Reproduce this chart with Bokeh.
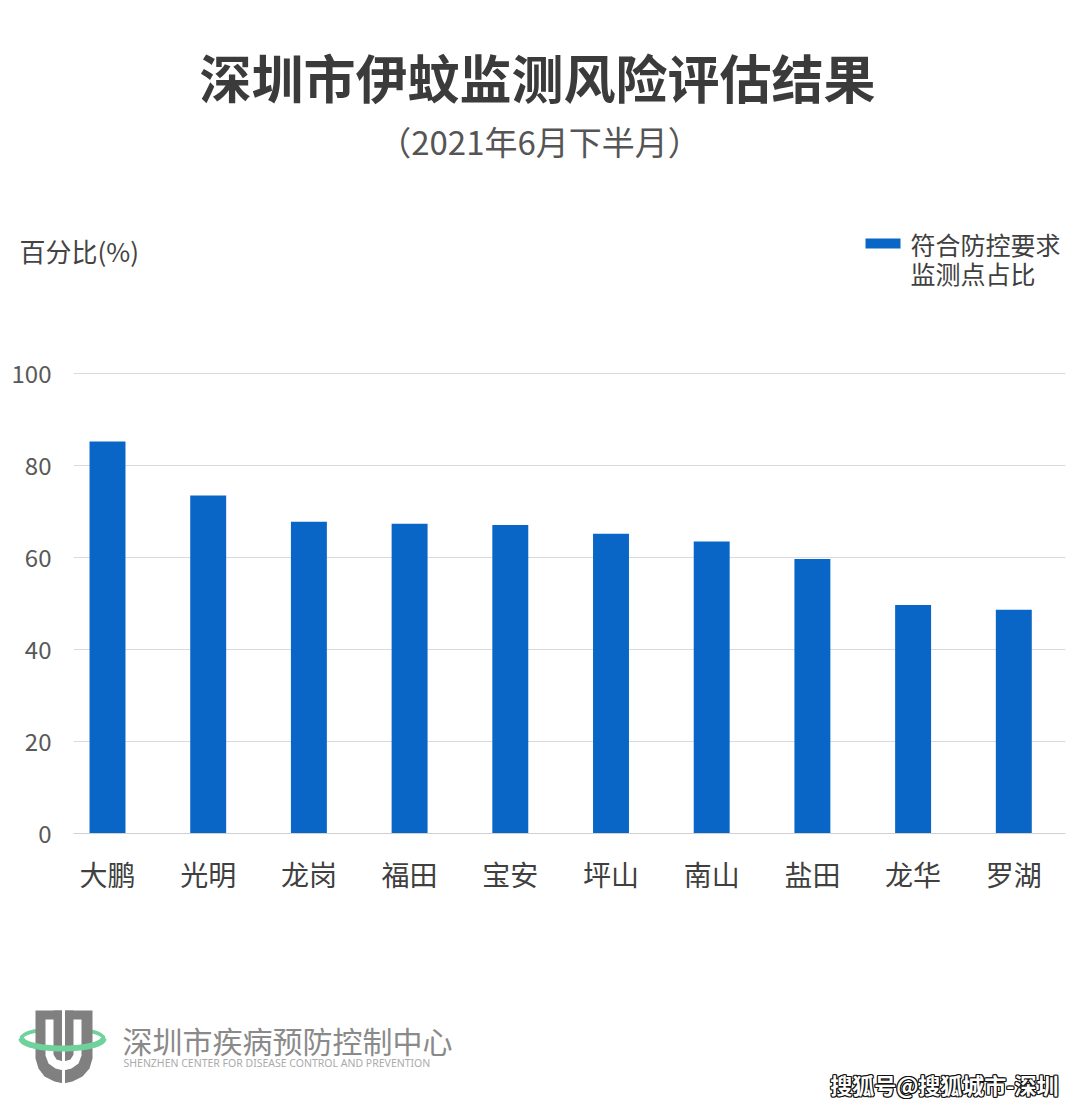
import numpy as np
from bokeh.plotting import figure
from bokeh.layouts import column
from bokeh.models import Range1d, FixedTicker
from bokeh.core.properties import value
from bokeh.embed import file_html
from bokeh.resources import INLINE

# ---------------- data ----------------
districts = ["大鹏", "光明", "龙岗", "福田", "宝安", "坪山", "南山", "盐田", "龙华", "罗湖"]
pct_ok = [85.3, 73.5, 67.8, 67.4, 67.1, 65.2, 63.5, 59.7, 49.7, 48.7]
y_ticks = [0, 20, 40, 60, 80, 100]
title_text = "深圳市伊蚊监测风险评估结果"
subtitle_text = "（2021年6月下半月）"
y_title = "百分比(%)"
legend_lines = ["符合防控要求", "监测点占比"]
org_cn = "深圳市疾病预防控制中心"
org_en = "SHENZHEN CENTER FOR DISEASE CONTROL AND PREVENTION"
watermark = "搜狐号@搜狐城市-深圳"

FONT = "Noto Sans CJK SC"
BLUE = "#0a66c6"
W = 1080


def blank_fig(h, y_top, y_bot):
    f = figure(width=W, height=h, x_range=Range1d(0, W), y_range=Range1d(y_bot, y_top),
               output_backend="svg", toolbar_location=None, min_border=0,
               frame_align=False,
               background_fill_color="white", border_fill_color="white")
    f.axis.visible = False
    f.grid.visible = False
    f.outline_line_color = None
    return f


# ---------------- header ----------------
hdr = blank_fig(340, 0, 340)
hdr.text(x=[537], y=[76], text=[title_text], text_font=value(FONT), text_font_size="52px",
         text_font_style="bold", text_color="#3b3b3b", text_align="center", text_baseline="middle")
hdr.text(x=[539], y=[140], text=[subtitle_text], text_font=value(FONT), text_font_size="33px",
         text_color="#555555", text_align="center", text_baseline="middle")
hdr.text(x=[19], y=[250], text=[y_title], text_font=value(FONT), text_font_size="26px",
         text_color="#444444", text_align="left", text_baseline="middle")
hdr.quad(left=[865], right=[900], top=[238], bottom=[248], fill_color=BLUE, line_color=None)
hdr.text(x=[910, 910], y=[243, 272], text=legend_lines, text_font=value(FONT),
         text_font_size="25px", text_color="#404040", text_align="left", text_baseline="middle")

# ---------------- main chart ----------------
px_top, px_100, px_0 = 360.0, 373.3, 833.0
y_end = (px_0 - px_top) / (px_0 - px_100) * 100
left_px, right_px, c0, step = 73.0, 1065.0, 107.0, 100.7
x_start = (left_px - c0) / step
x_end = (right_px - c0) / step

p = figure(width=W, height=560, x_range=Range1d(x_start, x_end), y_range=Range1d(0, y_end),
           output_backend="svg", toolbar_location=None, frame_align=False,
           min_border_left=int(left_px), min_border_right=int(W - right_px),
           min_border_top=int(px_top - 340), min_border_bottom=int(900 - px_0),
           background_fill_color="white", border_fill_color="white")
p.outline_line_color = None
xs = list(range(len(districts)))
p.vbar(x=xs, top=pct_ok, width=0.357, fill_color=BLUE, line_color=None)

p.xgrid.visible = False
p.ygrid.ticker = FixedTicker(ticks=y_ticks)
p.ygrid.grid_line_color = "#dadada"
p.ygrid.grid_line_width = 1

p.yaxis.ticker = FixedTicker(ticks=y_ticks)
p.yaxis.axis_line_color = None
p.yaxis.major_tick_line_color = None
p.yaxis.minor_tick_line_color = None
p.yaxis.major_label_text_font = FONT
p.yaxis.major_label_text_font_size = "24px"
p.yaxis.major_label_text_color = "#595959"
p.yaxis.major_label_standoff = 16

p.xaxis.ticker = FixedTicker(ticks=xs)
p.xaxis.major_label_overrides = {i: d for i, d in enumerate(districts)}
p.xaxis.axis_line_color = "#d0d0d0"
p.xaxis.axis_line_width = 1
p.xaxis.major_tick_line_color = None
p.xaxis.minor_tick_line_color = None
p.xaxis.major_label_text_font = FONT
p.xaxis.major_label_text_font_size = "28px"
p.xaxis.major_label_text_color = "#404040"
p.xaxis.major_label_standoff = 14

# ---------------- footer ----------------
ftr = blank_fig(208, 900, 1108)
GREEN = "#6fd29c"
GRAY = "#808080"
# green ring, back part
ftr.ellipse(x=[62], y=[1038], width=[82], height=[20], fill_color=None,
            line_color=GREEN, line_width=4)
# shield
shield_x = [35, 92, 92, 89, 82, 72, 63, 54, 44, 38, 35]
shield_y = [1010, 1010, 1058, 1068, 1076, 1081, 1083, 1081, 1076, 1068, 1058]
ftr.patch(shield_x, shield_y, fill_color=GRAY, line_color=None)
inner_x = [45, 81, 81, 78, 71, 63, 55, 48, 45]
inner_y = [1019, 1019, 1055, 1063, 1068, 1070, 1068, 1063, 1055]
ftr.patch(inner_x, inner_y, fill_color="white", line_color=None)
tongue_x = [53, 73, 73, 70, 63, 56, 53]
tongue_y = [1010, 1010, 1054, 1059, 1061, 1059, 1054]
ftr.patch(tongue_x, tongue_y, fill_color=GRAY, line_color=None)
ftr.segment(x0=[63], y0=[1006], x1=[63], y1=[1086], line_color="white", line_width=3)
# green ring, front (lower) part
t = np.linspace(0, np.pi, 40)
ftr.line(62 + 41 * np.cos(t), 1038 + 10 * np.sin(t), line_color=GREEN, line_width=6)

ftr.text(x=[122], y=[1039], text=[org_cn], text_font=value(FONT), text_font_size="30px",
         text_color="#8a8a8a", text_align="left", text_baseline="middle")
ftr.text(x=[123], y=[1062], text=[org_en], text_font=value("Noto Sans"), text_font_size="10.5px",
         text_color="#ababab", text_align="left", text_baseline="middle")
for dx, dy in [(-1, 0), (1, 0), (0, -1), (0, 1), (1, 1), (-1, -1), (1, -1), (-1, 1)]:
    ftr.text(x=[1058 + dx], y=[1083 + dy], text=[watermark], text_font=value(FONT),
             text_font_size="22px", text_font_style="bold", text_color="#111111",
             text_align="right", text_baseline="middle")
ftr.text(x=[1058], y=[1083], text=[watermark], text_font=value(FONT),
         text_font_size="22px", text_font_style="bold", text_color="white",
         text_align="right", text_baseline="middle")

layout = column(hdr, p, ftr, spacing=0)
open("out.html", "w").write(file_html(layout, INLINE))
